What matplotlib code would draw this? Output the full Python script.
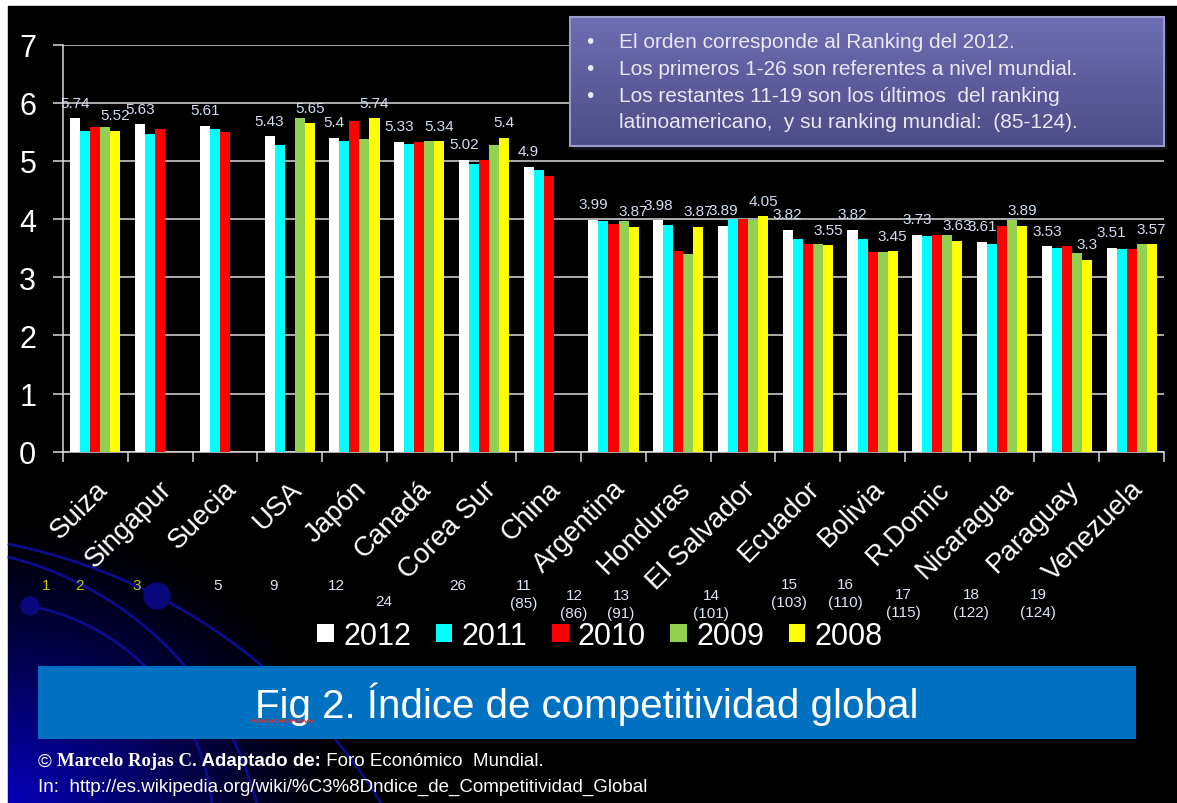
import numpy as np
import matplotlib.pyplot as plt
from matplotlib.patches import Rectangle, Circle
from matplotlib.transforms import ScaledTranslation

plt.rcParams['font.family'] = ['Liberation Sans', 'DejaVu Sans']

# datos del gráfico
paises = ['Suiza', 'Singapur', 'Suecia', 'USA', 'Japón', 'Canadá', 'Corea Sur', 'China',
          'Argentina', 'Honduras', 'El Salvador', 'Ecuador', 'Bolivia', 'R.Domic',
          'Nicaragua', 'Paraguay', 'Venezuela']
anios = ['2012', '2011', '2010', '2009', '2008']
nan = np.nan
v2012 = [5.74, 5.63, 5.61, 5.43, 5.40, 5.33, 5.02, 4.90, 3.99, 3.98, 3.89, 3.82, 3.82, 3.73, 3.61, 3.53, 3.51]
v2011 = [5.52, 5.47, 5.55, 5.27, 5.35, 5.30, 4.94, 4.84, 3.96, 3.90, 4.00, 3.65, 3.65, 3.71, 3.58, 3.51, 3.48]
v2010 = [5.59, 5.55, 5.50, nan, 5.69, 5.33, 5.02, 4.74, 3.92, 3.45, 4.01, 3.58, 3.43, 3.73, 3.89, 3.53, 3.48]
v2009 = [5.59, nan, nan, 5.74, 5.37, 5.35, 5.28, nan, 3.96, 3.40, 3.99, 3.58, 3.43, 3.72, 3.98, 3.42, 3.57]
v2008 = [5.52, nan, nan, 5.65, 5.74, 5.34, 5.40, nan, 3.87, 3.87, 4.05, 3.55, 3.45, 3.63, 3.89, 3.30, 3.57]
ranking = ['1', '2', '3', '5', '9', '12', '24', '26', '11\n(85)', '12\n(86)', '13\n(91)',
           '14\n(101)', '15\n(103)', '16\n(110)', '17\n(115)', '18\n(122)', '19\n(124)']

notas = ['El orden corresponde al Ranking del 2012.',
         'Los primeros 1-26 son referentes a nivel mundial.',
         'Los restantes 11-19 son los últimos  del ranking',
         'latinoamericano,  y su ranking mundial:  (85-124).']

colores = ['#ffffff', '#00ffff', '#ff0000', '#92d050', '#ffff00']
series = [v2012, v2011, v2010, v2009, v2008]

# posiciones (pixeles) de los numeros del ranking, como en la diapositiva
rank_x = [46, 79, 137, 218, 273, 336, 384, 458, 524, 574, 621, 711, 789, 845, 903, 971, 1038]
rank_y = [587, 587, 587, 587, 587, 587, 603, 587, 587, 597, 597, 597, 586, 586, 596, 596, 596]

W, H = 1177, 804
fig = plt.figure(figsize=(W / 100, H / 100), dpi=100)
fig.patch.set_facecolor('white')

# fondo
bg = fig.add_axes([0, 0, 1, 1], zorder=0)
bg.set_xlim(0, W)
bg.set_ylim(H, 0)
bg.axis('off')
bg.add_patch(Rectangle((8, 7), W - 8, H - 7, color='black', zorder=0))

gx, gy = np.meshgrid(np.linspace(8, W, 300), np.linspace(7, H, 200))
r = np.sqrt(((gx - 8) / 340) ** 2 + ((H - gy) / 280) ** 2)
inten = np.clip(1 - r, 0, 1) ** 1.2
img = np.zeros(gx.shape + (3,))
img[..., 2] = 0.72 * inten
img[..., 0] = 0.02 * inten
bg.imshow(img, extent=(8, W, H, 7), interpolation='bilinear', aspect='auto', zorder=1)


def circulo(p1, p2, p3):
    a = np.array([[p2[0] - p1[0], p2[1] - p1[1]], [p3[0] - p2[0], p3[1] - p2[1]]], float)
    b = 0.5 * np.array([p2[0] ** 2 - p1[0] ** 2 + p2[1] ** 2 - p1[1] ** 2,
                        p3[0] ** 2 - p2[0] ** 2 + p3[1] ** 2 - p2[1] ** 2])
    c = np.linalg.solve(a, b)
    return c, np.hypot(p1[0] - c[0], p1[1] - c[1])


arcos = [((8, 545), (157, 597), (260, 665), 8),
         ((8, 558), (90, 590), (185, 667), 8),
         ((30, 607), (100, 633), (145, 667), 30)]
for p1, p2, p3, x0 in arcos:
    c, rad = circulo(p1, p2, p3)
    t = np.linspace(-np.pi, np.pi, 2000)
    xs = c[0] + rad * np.cos(t)
    ys = c[1] + rad * np.sin(t)
    m = (xs >= x0) & (ys < c[1]) & (ys <= H)
    bg.plot(xs[m], ys[m], color='#0c0c8c', lw=2.0, zorder=2)
bg.add_patch(Circle((30, 607), 9, color='#08087c', zorder=3))
bg.add_patch(Circle((157, 597), 13, color='#08087c', zorder=3))

# grafico de barras
ax = fig.add_axes([63 / W, 1 - 452.7 / H, (1164 - 63) / W, (452.7 - 45.7) / H], zorder=1)
ax.set_facecolor('none')
x = np.arange(len(paises))
w = 0.155
for k, (vals, col) in enumerate(zip(series, colores)):
    ax.bar(x + 0.5 + (k - 2) * w, vals, w, color=col, zorder=3)

for k in (0, 4):
    for xi, v in zip(x, series[k]):
        if not np.isnan(v):
            ax.annotate(f'{v:g}', (xi + 0.5 + (k - 2) * w, v), xytext=(0, 6),
                        textcoords='offset points', ha='center', va='bottom',
                        fontsize=11, color='#d2ddf0', zorder=4)

gris = '#d9d9d9'
ax.set_xlim(0, len(paises))
ax.set_ylim(0, 7)
ax.set_yticks(range(8))
ax.grid(axis='y', color=gris, lw=1.1)
for s in ['top', 'right']:
    ax.spines[s].set_visible(False)
for s in ['left', 'bottom']:
    ax.spines[s].set_color(gris)
    ax.spines[s].set_linewidth(1.1)
ax.tick_params(axis='y', colors=gris, labelcolor='white', length=7.2, width=1.1,
               labelsize=22, pad=12)
ax.set_xticks(x + 0.5)
ax.set_xticklabels(paises, rotation=45, ha='right', rotation_mode='anchor',
                   fontsize=20, color='white')
ax.set_xticks(np.arange(len(paises) + 1), minor=True)
ax.tick_params(axis='x', which='major', length=0, pad=17)
ax.tick_params(axis='x', which='minor', length=7.2, width=1.1, color=gris)
for lbl in ax.get_xticklabels():
    lbl.set_transform(lbl.get_transform() + ScaledTranslation(-0.01, 0, fig.dpi_scale_trans))

# capa superior: cuadro de notas, leyenda, titulo
ov = fig.add_axes([0, 0, 1, 1], zorder=2)
ov.set_xlim(0, W)
ov.set_ylim(H, 0)
ov.axis('off')
ov.set_facecolor('none')

ov.add_patch(Rectangle((573, 22), 594, 129, fc='#101018', ec='none', zorder=1))
caja = Rectangle((570, 18), 594, 129, fc='none', ec='#9a9acc', lw=1.5, zorder=3)
ov.add_patch(caja)
grad = np.linspace(0, 1, 100)[:, None, None]
top_c = np.array([0.43, 0.43, 0.70])
bot_c = np.array([0.30, 0.30, 0.53])
gimg = np.repeat(top_c * (1 - grad) + bot_c * grad, 2, axis=1)
gi = ov.imshow(gimg, extent=(570, 1164, 147, 18), aspect='auto', zorder=2)
gi.set_clip_path(caja)
for i, linea in enumerate(notas):
    yy = 43 + i * 26.5
    if i < 3:
        ov.text(586, yy, '•', color='#e8e8f4', fontsize=15, va='center', zorder=4)
    ov.text(619, yy, linea, color='#e8e8f4', fontsize=15, va='center', zorder=4)

for txt, rx, ry in zip(ranking, rank_x, rank_y):
    col = '#c8c800' if len(txt) == 1 and txt in '123' else '#dde6f4'
    ov.text(rx, ry - 8, txt, color=col, fontsize=11, ha='center', va='top',
            linespacing=1.4, family=['Liberation Sans Narrow', 'Liberation Sans'])

handles = [Rectangle((0, 0), 1, 1, fc=c) for c in colores]
fig.legend(handles, anios, ncol=5, loc='center', bbox_to_anchor=(600 / W, 1 - 637 / H),
           frameon=False, fontsize=22, labelcolor='white', handlelength=0.55,
           handleheight=0.55, handletextpad=0.3, columnspacing=0.8, borderaxespad=0)

ov.add_patch(Rectangle((38, 667), 1098, 73, fc='#0070c0', ec='none', zorder=3))
ov.text(587, 704, 'Fig 2. Índice de competitividad global', color='white', fontsize=29,
        ha='center', va='center', zorder=4)
ux = np.linspace(252, 313, 200)
ov.plot(ux, 722 + 1.5 * np.sin(ux * 2 * np.pi / 5), color='#e03030', lw=0.8, zorder=5)

# pie de pagina
renderer = fig.canvas.get_renderer()
partes = [('© ', 'Liberation Sans', 'normal'),
          ('Marcelo Rojas C.', 'Liberation Serif', 'bold'),
          (' Adaptado de:', 'Liberation Sans', 'bold'),
          (' Foro Económico  Mundial.', 'Liberation Sans', 'normal')]
xx = 38
for s, fam, peso in partes:
    t = ov.text(xx, 762, s, color='white', fontsize=13.5, family=fam, weight=peso,
                va='center', zorder=4)
    xx = t.get_window_extent(renderer).x1
ov.text(38, 787, 'In:  http://es.wikipedia.org/wiki/%C3%8Dndice_de_Competitividad_Global',
        color='white', fontsize=13.5, va='center', zorder=4)

fig.savefig('out.png', dpi=100, facecolor=fig.get_facecolor())
